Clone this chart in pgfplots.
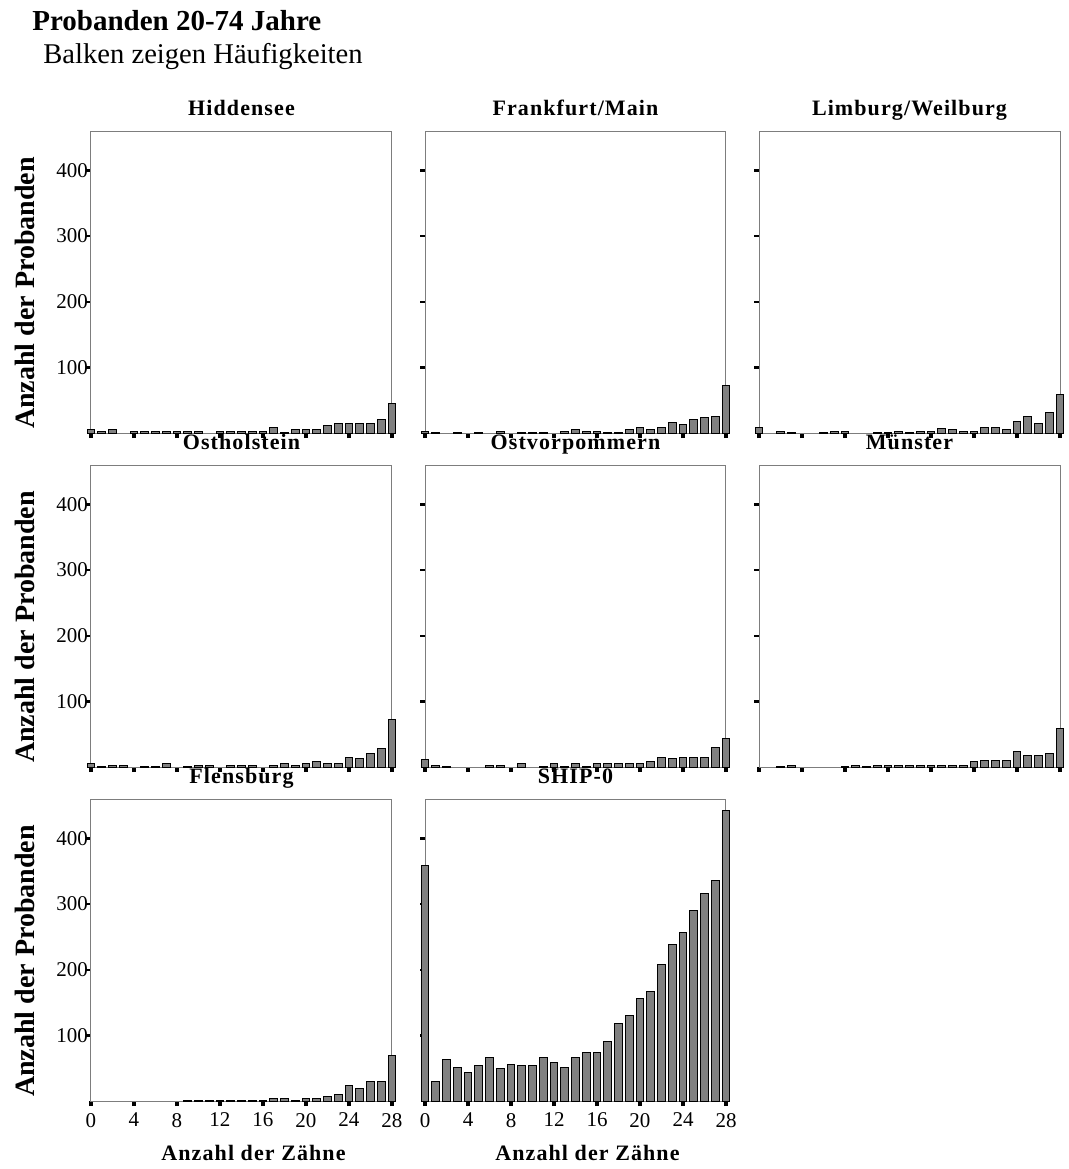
\documentclass[border=0pt]{standalone}
\usepackage{fontspec}
\setmainfont{Liberation Serif}
\newfontfamily\spaced[LetterSpace=5]{Liberation Serif}
\usepackage{pgfplots}
\pgfplotsset{compat=1.18}

\definecolor{barfill}{RGB}{128,128,128}
\definecolor{axgray}{RGB}{125,125,125}

\pgfplotsset{
  panel/.style={
    scale only axis, width=150.5pt, height=151pt,
    anchor=south west,
    xmin=0, xmax=28, ymin=0, ymax=460,
    clip=false,
    axis line style={axgray, line width=0.5pt},
    xtick={0,4,...,28}, ytick={100,200,300,400},
    xticklabels={}, yticklabels={},
    xtick pos=bottom, ytick pos=left,
    tick align=outside, major tick length=2.5pt,
    xtick style={black, line width=2.2pt},
    ytick style={black, line width=1.2pt},
    tick label style={font=\fontsize{10.5}{11}\selectfont},
    yticklabel style={xshift=4.5pt},
    /pgf/number format/assume math mode=true,
    title style={font=\spaced\bfseries\fontsize{11}{12}\selectfont,
      at={(0.5,1)}, anchor=base, yshift=2pt},
    every axis y label/.style={at={(axis description cs:0,0.5)}, rotate=90,
      anchor=center, xshift=-5.5pt, yshift=33pt,
      font=\bfseries\fontsize{14}{15}\selectfont},
    every axis x label/.style={at={(axis description cs:0.5,0)},
      anchor=base, yshift=-29.5pt, xshift=6pt,
      font=\spaced\bfseries\fontsize{11}{12}\selectfont},
    ybar, bar width=0.72,
  },
  bars/.style={fill=barfill, draw=black, line width=0.5pt},
  leftcol/.style={yticklabels={100,200,300,400}, ylabel={Anzahl der Probanden}},
  bottomrow/.style={xticklabels={0,4,8,12,16,20,24,28}, xlabel={Anzahl der Zähne}},
}

\begin{document}
\begin{tikzpicture}
\useasboundingbox (0,0) rectangle (534.5pt,-584.5pt);

\node[anchor=base west, font=\bfseries\fontsize{14.5}{16}\selectfont, inner sep=0pt]
  at (16pt,-15pt) {Probanden 20-74 Jahre};
\node[anchor=base west, font=\fontsize{14.3}{16}\selectfont, inner sep=0pt]
  at (21.5pt,-31.5pt) {Balken zeigen Häufigkeiten};

% row 1
\begin{axis}[panel, leftcol, at={(45.5pt,-216.5pt)}, title={Hiddensee}]
\addplot[bars] coordinates {
  (0,6) (1,3) (2,6) (4,3) (5,3) (6,2) (7,3) (8,3) (9,2) (10,3)
  (12,3) (13,3) (14,3) (15,3) (16,3) (17,9) (18,1) (19,5) (20,5)
  (21,5) (22,11) (23,14) (24,14) (25,14) (26,14) (27,21) (28,45)
};
\end{axis}

\begin{axis}[panel, at={(212.5pt,-216.5pt)}, title={Frankfurt/Main}]
\addplot[bars] coordinates {
  (0,2) (1,1) (3,1) (5,1) (7,2) (9,1) (10,1) (11,1) (13,2) (14,5)
  (15,3) (16,2) (17,1) (18,1) (19,5) (20,8) (21,5) (22,8) (23,16)
  (24,13) (25,20) (26,23) (27,25) (28,73)
};
\end{axis}

\begin{axis}[panel, at={(379.5pt,-216.5pt)}, title={Limburg/Weilburg}]
\addplot[bars] coordinates {
  (0,9) (2,2) (3,1) (6,1) (7,2) (8,2) (11,1) (12,1) (13,2) (14,1)
  (15,2) (16,2) (17,7) (18,5) (19,2) (20,2) (21,8) (22,8) (23,5)
  (24,18) (25,25) (26,15) (27,31) (28,59)
};
\end{axis}

% row 2
\begin{axis}[panel, leftcol, at={(45.5pt,-383.5pt)}, title={Ostholstein}]
\addplot[bars] coordinates {
  (0,5) (1,1) (2,2) (3,2) (5,1) (6,1) (7,5) (9,1) (10,2) (11,2)
  (13,2) (14,2) (15,2) (17,2) (18,5) (19,2) (20,5) (21,8) (22,5)
  (23,5) (24,15) (25,13) (26,20) (27,28) (28,73)
};
\end{axis}

\begin{axis}[panel, at={(212.5pt,-383.5pt)}, title={Ostvorpommern}]
\addplot[bars] coordinates {
  (0,12) (1,2) (2,1) (6,2) (7,2) (9,5) (11,1) (12,5) (13,1) (14,5)
  (15,1) (16,5) (17,5) (18,5) (19,5) (20,5) (21,8) (22,15) (23,13)
  (24,15) (25,15) (26,15) (27,30) (28,43)
};
\end{axis}

\begin{axis}[panel, at={(379.5pt,-383.5pt)}, title={Münster}]
\addplot[bars] coordinates {
  (2,1) (3,3) (8,1) (9,2) (10,1) (11,3) (12,3) (13,2) (14,2) (15,2)
  (16,2) (17,2) (18,3) (19,2) (20,8) (21,10) (22,10) (23,10) (24,23)
  (25,18) (26,18) (27,20) (28,58)
};
\end{axis}

% row 3
\begin{axis}[panel, leftcol, bottomrow, at={(45.5pt,-550.5pt)}, title={Flensburg}]
\addplot[bars] coordinates {
  (9,1) (10,1) (11,1) (12,1) (13,1) (14,1) (15,1) (16,1) (17,4) (18,4)
  (19,1) (20,4) (21,4) (22,7) (23,10) (24,24) (25,19) (26,29) (27,29)
  (28,70)
};
\end{axis}

\begin{axis}[panel, bottomrow, at={(212.5pt,-550.5pt)}, title={SHIP-0}]
\addplot[bars] coordinates {
  (0,359) (1,30) (2,63) (3,51) (4,43) (5,54) (6,66) (7,49) (8,56)
  (9,54) (10,54) (11,66) (12,59) (13,51) (14,66) (15,74) (16,74)
  (17,90) (18,118) (19,130) (20,156) (21,167) (22,208) (23,239)
  (24,256) (25,290) (26,316) (27,336) (28,442)
};
\end{axis}

\end{tikzpicture}
\end{document}
